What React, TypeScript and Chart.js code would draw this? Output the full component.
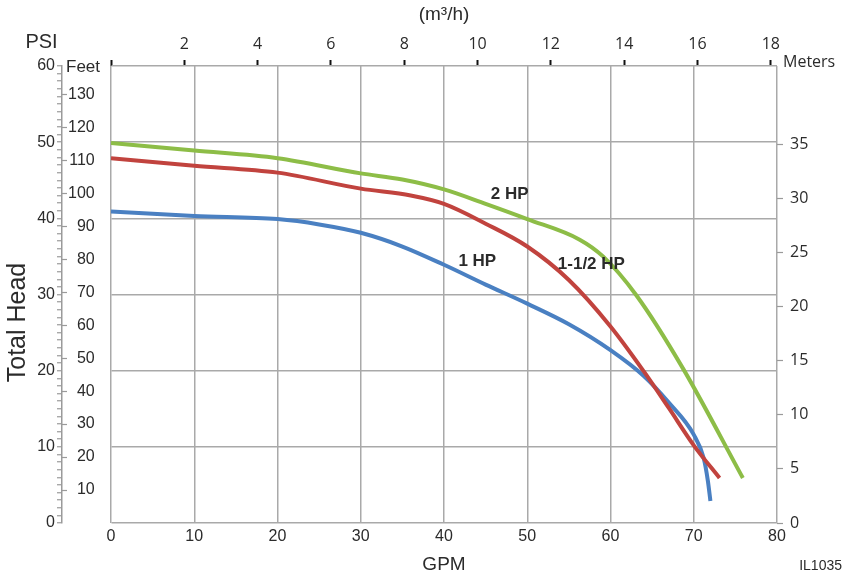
import React, { useEffect, useRef } from 'react';
import { Chart, registerables } from 'chart.js';

Chart.register(...registerables);

// ---- data (GPM vs PSI) ----
const gpm1HP = [0, 10, 20, 25, 30, 35, 40, 45, 50, 55, 60, 64, 67, 70, 71.2, 71.7, 72.0];
const psi1HP = [40.9, 40.3, 39.9, 39.2, 38.1, 36.3, 33.9, 31.3, 28.8, 26.1, 22.7, 19.3, 15.8, 11.6, 8.5, 5.5, 2.9];

const gpm15HP = [0, 10, 20, 30, 36, 40, 45, 50, 55, 60, 64, 67, 70, 73.1];
const psi15HP = [47.9, 46.9, 46.0, 43.9, 43.0, 41.9, 39.3, 36.3, 31.9, 25.8, 19.9, 15.1, 10.2, 5.9];

const gpm2HP = [0, 10, 20, 30, 35, 40, 45, 50, 56.3, 59.1, 63.1, 68.7, 75.9];
const psi2HP = [49.9, 48.9, 47.9, 45.9, 45.1, 43.8, 41.9, 39.9, 37.2, 35.0, 29.9, 20.3, 5.9];

const curveLabels = ['1 HP', '1-1/2 HP', '2 HP'];
const labelGpm = [44.0, 57.7, 47.9];
const labelPsi = [34.4, 33.9, 43.1];

// ---- tick labels ----
const gpmTicks = [0, 10, 20, 30, 40, 50, 60, 70, 80];
const psiMajorTicks = [0, 10, 20, 30, 40, 50, 60];
const feetTicks = [10, 20, 30, 40, 50, 60, 70, 80, 90, 100, 110, 120, 130];
const meterTicks = [0, 5, 10, 15, 20, 25, 30, 35];
const m3hTicks = [0, 2, 4, 6, 8, 10, 12, 14, 16, 18];

// ---- unit conversions ----
const PSI_MAX = 60;
const GPM_MAX = 80;
const FEET_PER_PSI = 2.31;
const M_PER_PSI = 0.7034;
const GPM_PER_M3H = 4.403;

const SANS = '"Liberation Sans", Arial, sans-serif';
const OPEN = '"Open Sans", sans-serif';
const GRID = '#a9a9a9';
const TICK = '#9a9a9a';
const TEXT = '#2b2b2b';

const BLUE = '#4a80c2';
const RED = '#c1433e';
const GREEN = '#8dbd47';

const psiMinorTicks: number[] = [];
for (let v = 0; v <= PSI_MAX; v++) psiMinorTicks.push(v);

const toPoints = (xs: number[], ys: number[]) => xs.map((x, i) => ({ x, y: ys[i] }));

const textPlugin = {
  id: 'extraTexts',
  afterDraw(chart: any) {
    const ctx = chart.ctx as CanvasRenderingContext2D;
    const xs = chart.scales.x;
    const ys = chart.scales.y;
    const area = chart.chartArea;
    ctx.save();
    ctx.fillStyle = TEXT;
    ctx.textBaseline = 'middle';

    ctx.font = `bold 17px ${SANS}`;
    ctx.textAlign = 'center';
    curveLabels.forEach((t, i) => {
      ctx.fillText(t, xs.getPixelForValue(labelGpm[i]), ys.getPixelForValue(labelPsi[i]));
    });

    ctx.font = `20px ${SANS}`;
    ctx.textAlign = 'center';
    ctx.fillText('PSI', ys.right - 20.5, area.top - 24);

    ctx.font = `17px ${SANS}`;
    ctx.textAlign = 'left';
    ctx.fillText('Feet', ys.right + 4, area.top + 1);

    ctx.font = `16px ${OPEN}`;
    ctx.textAlign = 'left';
    ctx.fillText('Meters', area.right + 6, area.top - 3.5);

    ctx.font = `14px ${SANS}`;
    ctx.textAlign = 'right';
    ctx.fillText('IL1035', chart.width - 4, chart.height - 14);

    ctx.translate(18, (area.top + area.bottom) / 2 + 28);
    ctx.rotate(-Math.PI / 2);
    ctx.font = `25px ${SANS}`;
    ctx.textAlign = 'center';
    ctx.fillText('Total Head', 0, 0);
    ctx.restore();
  },
};

export default function App() {
  const ref = useRef<HTMLCanvasElement | null>(null);

  useEffect(() => {
    if (!ref.current) return;
    const line = (label: string, xs: number[], ys: number[], color: string) => ({
      label,
      data: toPoints(xs, ys),
      borderColor: color,
      borderWidth: 4,
      pointRadius: 0,
      cubicInterpolationMode: 'monotone',
      fill: false,
      xAxisID: 'x',
      yAxisID: 'y',
    });
    const chart = new Chart(ref.current, {
      type: 'line',
      data: {
        datasets: [
          line('2 HP', gpm2HP, psi2HP, GREEN),
          line('1-1/2 HP', gpm15HP, psi15HP, RED),
          line('1 HP', gpm1HP, psi1HP, BLUE),
        ],
      },
      options: {
        animation: false,
        responsive: false,
        devicePixelRatio: 1,
        layout: { padding: 0 },
        plugins: { legend: { display: false }, tooltip: { enabled: false } },
        scales: {
          x: {
            type: 'linear',
            position: 'bottom',
            min: 0,
            max: GPM_MAX,
            afterBuildTicks: (s: any) => { s.ticks = gpmTicks.map((v) => ({ value: v })); },
            ticks: { font: { family: SANS, size: 16 }, color: TEXT, padding: 4, autoSkip: false, maxRotation: 0 },
            grid: { color: GRID, lineWidth: 1.5, drawTicks: false },
            border: { display: false },
            title: { display: true, text: 'GPM', font: { family: SANS, size: 19 }, color: TEXT, padding: { top: 0, bottom: 4 } },
            afterFit: (s: any) => { s.height = 57; },
          },
          x2: {
            type: 'linear',
            position: 'top',
            min: 0,
            max: GPM_MAX / GPM_PER_M3H,
            afterBuildTicks: (s: any) => { s.ticks = m3hTicks.map((v) => ({ value: v })); },
            ticks: {
              font: { family: OPEN, size: 16 },
              color: TEXT,
              padding: 6,
              autoSkip: false,
              maxRotation: 0,
              callback: (v: any) => (v === 0 ? '' : String(v)),
            },
            grid: { drawOnChartArea: false, tickLength: 6, tickColor: '#111', tickWidth: 2 },
            border: { display: false },
            title: { display: true, text: '(m³/h)', font: { family: SANS, size: 19 }, color: TEXT, padding: { top: 3, bottom: 0 } },
            afterFit: (s: any) => { s.height = 66; },
          },
          y: {
            type: 'linear',
            position: 'left',
            weight: 3,
            min: 0,
            max: PSI_MAX,
            afterBuildTicks: (s: any) => { s.ticks = psiMinorTicks.map((v) => ({ value: v })); },
            ticks: {
              font: { family: SANS, size: 16 },
              color: TEXT,
              padding: 2,
              autoSkip: false,
              callback: (v: any) => (psiMajorTicks.includes(v) ? String(v) : ''),
            },
            grid: {
              color: (c: any) => (c.tick && psiMajorTicks.includes(c.tick.value) ? GRID : 'rgba(0,0,0,0)'),
              lineWidth: 1.5,
              tickColor: TICK,
              tickLength: 5,
              tickWidth: 1.2,
            },
            border: { display: true, color: TICK, width: 1.5 },
            afterFit: (s: any) => { s.width = 62; },
          },
          yFeet: {
            type: 'linear',
            position: 'left',
            weight: 2,
            min: 0,
            max: PSI_MAX * FEET_PER_PSI,
            afterBuildTicks: (s: any) => { s.ticks = feetTicks.map((v) => ({ value: v })); },
            ticks: { mirror: true, crossAlign: 'far', padding: 6, font: { family: SANS, size: 16 }, color: TEXT, autoSkip: false },
            grid: { drawOnChartArea: false, tickLength: -5, tickColor: TICK, tickWidth: 1.2 },
            border: { display: false },
            afterFit: (s: any) => { s.width = 0; },
          },
          ySpace: {
            type: 'linear',
            position: 'left',
            weight: 1,
            min: 0,
            max: 1,
            ticks: { display: false },
            grid: { display: false },
            border: { display: false },
            afterFit: (s: any) => { s.width = 49; },
          },
          yM: {
            type: 'linear',
            position: 'right',
            min: 0,
            max: PSI_MAX * M_PER_PSI,
            afterBuildTicks: (s: any) => { s.ticks = meterTicks.map((v) => ({ value: v })); },
            ticks: { font: { family: OPEN, size: 16 }, color: TEXT, padding: 7, autoSkip: false },
            grid: { drawOnChartArea: false, tickLength: 6, tickColor: TICK, tickWidth: 1.2 },
            border: { display: false },
            afterFit: (s: any) => { s.width = 69; },
          },
        },
      } as any,
      plugins: [textPlugin],
    });
    return () => chart.destroy();
  }, []);

  return (
    <canvas
      ref={ref}
      width={846}
      height={580}
      style={{ position: 'fixed', left: 0, top: 0, background: '#fff' }}
    />
  );
}
